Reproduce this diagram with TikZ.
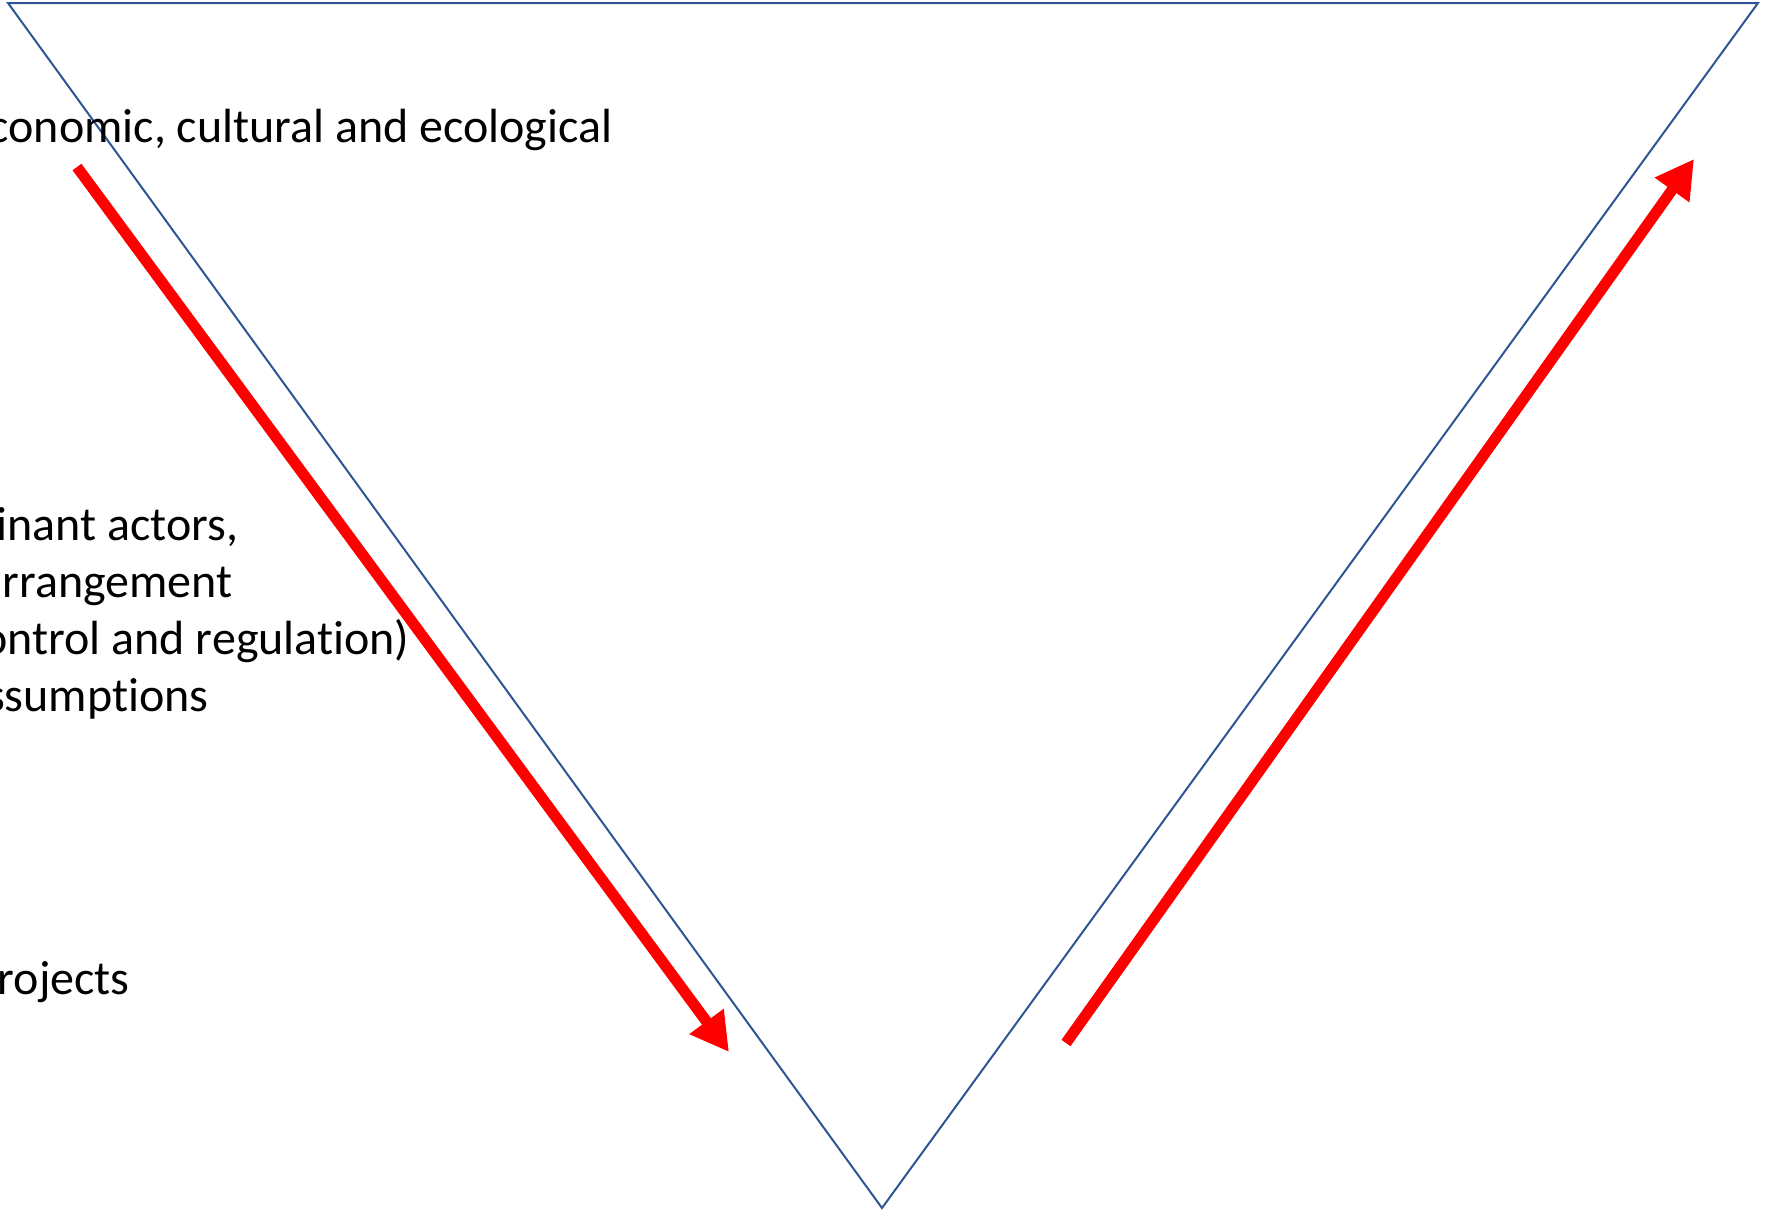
\documentclass[tikz,border=0pt]{standalone}
\usepackage{fontspec}
\setmainfont{Carlito}[Ligatures={NoCommon}]
\usetikzlibrary{arrows.meta}
\definecolor{triblue}{RGB}{47,85,151}
\definecolor{arrred}{RGB}{255,0,0}
\begin{document}
\begin{tikzpicture}[x=0.5pt,y=-0.5pt,
  lbl/.style={anchor=base east, inner sep=0pt, text=black, font=\fontsize{24pt}{28pt}\selectfont},
  redarrow/.style={draw=arrred, line width=5.5pt, line cap=butt, -{Triangle[length=19pt,width=20pt]}},
  triline/.style={draw=triblue, line width=1pt, line join=miter}]
\useasboundingbox (0,0) rectangle (1769,1211);
\clip (0,0) rectangle (1769,1211);
\fill[white] (0,0) rectangle (1769,1211);
% triangle
\coordinate (tl) at (8,3);
\coordinate (tr) at (1758,3);
\coordinate (bt) at (882,1208);
\draw[triline] (tl) -- (tr) -- (bt) -- cycle;
% texts
\node[lbl] (t1) at (613,142) {conomic, cultural and ecological};
\node[lbl] (t2) at (239,540) {inant actors,};
\node[lbl] (t3) at (233,597) {rrangement};
\node[lbl] (t4) at (410,654) {ontrol and regulation)};
\node[lbl] (t5) at (209,711) {ssumptions};
\node[lbl] (t6) at (130,994) {rojects};
% arrows
\coordinate (a1s) at (77,167);
\coordinate (a1e) at (729,1052);
\coordinate (a2s) at (1066,1043);
\coordinate (a2e) at (1694,159);
\draw[redarrow] (a1s) -- (a1e);
\draw[redarrow] (a2s) -- (a2e);
\end{tikzpicture}
\end{document}
